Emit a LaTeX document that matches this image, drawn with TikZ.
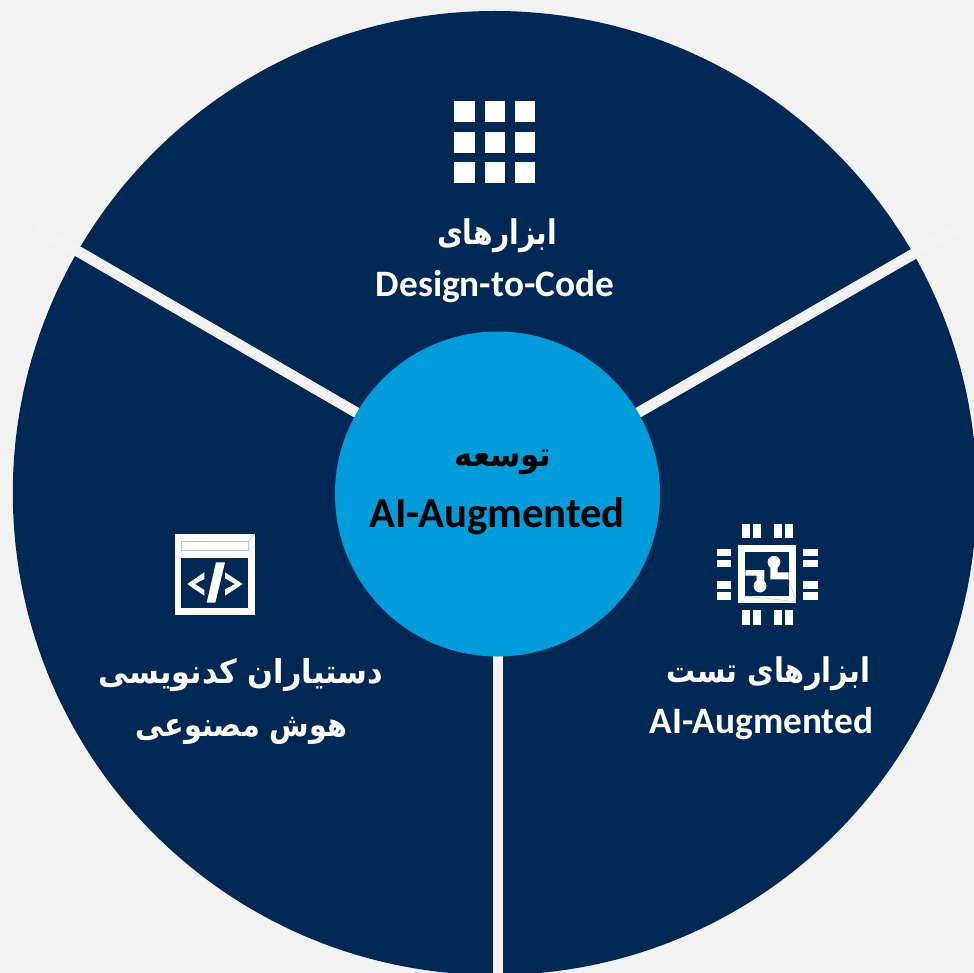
\documentclass[tikz,border=0pt]{standalone}
\usepackage{fontspec}
\setmainfont{Carlito}
\newfontfamily\arabicfont[Script=Arabic]{DejaVu Sans}
\TeXXeTstate=1
\definecolor{navy}{HTML}{002855}
\definecolor{hub}{HTML}{009CDA}
\definecolor{paper}{HTML}{F2F2F2}
\definecolor{spokeout}{HTML}{F4F4F4}
\definecolor{faint}{HTML}{B8C6D2}
\newcommand{\fa}[1]{\fontsize{#1}{#1}\selectfont\arabicfont\bfseries}
\newcommand{\fl}[1]{\fontsize{#1}{#1}\selectfont\bfseries}
\tikzset{
  spoke/.style={draw=paper,line width=10.3pt},
  spokefaint/.style={draw=spokeout,line width=10.3pt},
  lbl/.style={text=white,inner sep=0pt,anchor=center},
  hublbl/.style={text=black,inner sep=0pt,anchor=center},
  arab/.style={xscale=#1,transform shape},
  ico/.style={fill=white,draw=none},
  icoback/.style={fill=navy,draw=none},
}
\begin{document}
\begin{tikzpicture}[x=1pt,y=-1pt]
\fill[paper] (0,0) rectangle (974,973);
\useasboundingbox (0,0) rectangle (974,973);
\begin{scope}
\clip (0,0) rectangle (974,973);
\node[circle,fill=navy,minimum size=964pt,inner sep=0pt] (disc) at (494.8,493) {};
\coordinate (hubc) at (497,494);
\coordinate (endl) at (37,228);
\coordinate (endr) at (958,228);
\coordinate (endb) at (498,973);
\coordinate (hubb) at (498,600);
\coordinate (rimr) at (914,254);
\coordinate (riml) at (78,251);
\draw[spokefaint] (endl) -- (hubc);
\draw[spokefaint] (endr) -- (hubc);
\draw[spoke] (riml) -- (hubc);
\draw[spoke] (rimr) -- (hubc);
\draw[spoke] (endb) -- (hubb);
\node[circle,fill=hub,minimum size=325pt,inner sep=0pt] (hub) at (497.5,494) {};
\end{scope}
% grid icon
\foreach \x/\w in {454/21,485/20,515/20}{
  \foreach \y in {101,132,162}{
    \fill[ico] (\x,\y) rectangle ++(\w,21);
  }
}
% code icon
\fill[ico] (174.5,534) rectangle (255,614.5);
\fill[icoback] (181,557.5) rectangle (248.3,607.8);
\draw[faint,line width=.6pt] (181,541) rectangle (248.3,550);
\draw[faint,line width=.5pt] (248.3,541) -- (255,534);
\fill[ico] (187.3,584) -- (204.3,572.3) -- (204.3,579) -- (195,584) -- (204.3,590) -- (204.3,595.7) -- cycle;
\fill[ico] (216,562.3) -- (225,562.3) -- (215.3,602.7) -- (206.7,602.7) -- cycle;
\fill[ico] (225,572.3) -- (242.7,584) -- (225,595.7) -- (225,589.3) -- (235,584) -- (225,578.3) -- cycle;
% chip icon
\foreach \x in {742,752.7,774,785}{
  \fill[ico] (\x,523.7) rectangle ++(8,14.3);
  \fill[ico] (\x,610.3) rectangle ++(8,14.3);
}
\foreach \y in {548.7,559.7,581,592}{
  \fill[ico] (717,\y) rectangle ++(14.3,7.7);
  \fill[ico] (803.3,\y) rectangle ++(14.7,7.7);
}
\fill[ico] (738.3,545) rectangle (796,602.7);
\fill[icoback] (745.3,552) rectangle (788.7,596);
\fill[ico] (745.3,570) -- (764.3,570) -- (764.3,586) -- (756.7,586) -- (756.7,575.7) -- (745.3,575.7) -- cycle;
\fill[ico] (760,586) circle (6.4);
\fill[ico] (770.3,562.3) -- (777.7,562.3) -- (777.7,572.3) -- (788.7,572.3) -- (788.7,579.3) -- (770.3,579.3) -- cycle;
\fill[ico] (774,562.3) circle (6.4);
\draw[faint,line width=.5pt] (745.3,596) -- (796,601.7) (788.7,579.3) -- (796,601.7);
% labels
\node[lbl,arab=.83] (t1a) at (497,236) {\fa{34}\beginR ابزارهای\endR};
\node[lbl] (t1b) at (495,287) {\fl{37.3}Design-to-Code};
\node[hublbl,arab=.905] (t0a) at (503,462) {\fa{34}\beginR توسعه\endR};
\node[hublbl] (t0b) at (497,516) {\fl{42.7}AI-Augmented};
\node[lbl,arab=.85] (t2a) at (768.5,674) {\fa{34}\beginR ابزارهای تست\endR};
\node[lbl] (t2b) at (761.5,724) {\fl{37.3}AI-Augmented};
\node[lbl,arab=.92] (t3a) at (241,675) {\fa{33}\beginR دستیاران کدنویسی\endR};
\node[lbl,arab=.87] (t3b) at (241.5,731) {\fa{33}\beginR هوش مصنوعی\endR};
\end{tikzpicture}
\end{document}
